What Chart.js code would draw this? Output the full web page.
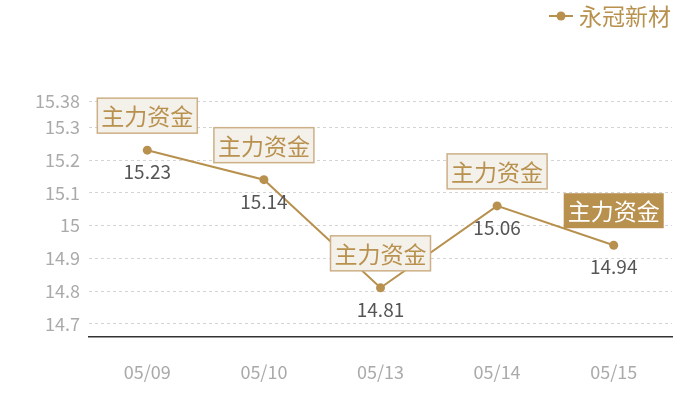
<!DOCTYPE html>
<html>
<head>
<meta charset="utf-8">
<script src="https://cdn.jsdelivr.net/npm/chart.js@4.4.1/dist/chart.umd.min.js"></script>
<style>
  html, body { margin: 0; padding: 0; background: #fff; }
  #box { width: 700px; height: 400px; }
</style>
</head>
<body>
<div id="box"><canvas id="grafico"></canvas></div>
<script>
// dati
const categorie = ["05/09", "05/10", "05/13", "05/14", "05/15"];
const prezzi = [15.23, 15.14, 14.81, 15.06, 14.94];
const etichette = ["主力资金", "主力资金", "主力资金", "主力资金", "主力资金"];
const tickY = [14.7, 14.8, 14.9, 15.0, 15.1, 15.2, 15.3, 15.38];
const nomeSerie = "永冠新材";

const oro = "#b8914f";
const fontCJK = "'Noto Sans CJK SC', 'Noto Sans', sans-serif";

// disegna legenda, valori e riquadri "主力资金"
const pluginEtichette = {
    id: "etichette",
    afterDatasetsDraw(chart) {
        const ctx = chart.ctx;
        const meta = chart.getDatasetMeta(0);
        ctx.save();

        meta.data.forEach((p, i) => {
            // valore sotto il punto
            ctx.font = "19px " + fontCJK;
            ctx.fillStyle = "#555";
            ctx.textAlign = "center";
            ctx.textBaseline = "middle";
            ctx.fillText(String(prezzi[i]), p.x, p.y + 22);

            // riquadro sopra il punto
            const w = 100, h = 35;
            const bx = p.x - w / 2, by = p.y - 17 - h;
            const ultimo = i === meta.data.length - 1;
            ctx.fillStyle = ultimo ? oro : "#f4f0ea";
            ctx.fillRect(bx, by, w, h);
            if (!ultimo) {
                ctx.strokeStyle = "#cdb087";
                ctx.lineWidth = 1.5;
                ctx.strokeRect(bx, by, w, h);
            }
            ctx.font = "23px " + fontCJK;
            ctx.fillStyle = ultimo ? "#fff" : oro;
            ctx.fillText(etichette[i], p.x, by + h / 2 + 1);
        });

        // legenda in alto a destra
        ctx.strokeStyle = oro;
        ctx.lineWidth = 2;
        ctx.beginPath();
        ctx.moveTo(549, 16);
        ctx.lineTo(573, 16);
        ctx.stroke();
        ctx.fillStyle = oro;
        ctx.beginPath();
        ctx.arc(561, 16, 4.5, 0, Math.PI * 2);
        ctx.fill();
        ctx.font = "23px " + fontCJK;
        ctx.textAlign = "left";
        ctx.textBaseline = "middle";
        ctx.fillText(nomeSerie, 579, 16);

        ctx.restore();
    }
};

const ctx = document.getElementById("grafico").getContext("2d");
new Chart(ctx, {
    type: "line",
    data: {
        labels: categorie,
        datasets: [{
            label: nomeSerie,
            data: prezzi,
            borderColor: oro,
            backgroundColor: oro,
            borderWidth: 2,
            pointRadius: 4.5,
            pointBackgroundColor: oro,
            pointBorderWidth: 0,
            tension: 0,
            fill: false
        }]
    },
    options: {
        responsive: true,
        maintainAspectRatio: false,
        animation: false,
        layout: { padding: { top: 101, right: 28, bottom: 0, left: 0 } },
        plugins: {
            legend: { display: false },
            tooltip: { enabled: false }
        },
        scales: {
            x: {
                offset: true,
                grid: { display: false, drawTicks: false },
                border: { display: true, color: "#333", width: 1.5 },
                ticks: {
                    padding: 24,
                    color: "#aaa",
                    font: { size: 18, family: fontCJK }
                },
                afterFit(scale) { scale.height = 63; }
            },
            y: {
                min: 14.66,
                max: 15.38,
                afterBuildTicks(scale) {
                    scale.ticks = tickY.map(v => ({ value: v }));
                },
                grid: { color: "#d4d4d4", drawTicks: false },
                border: { display: false, dash: [3, 3] },
                ticks: {
                    padding: 9,
                    color: "#aaa",
                    font: { size: 18, family: fontCJK },
                    callback: v => String(v)
                },
                afterFit(scale) { scale.width = 89; }
            }
        }
    },
    plugins: [pluginEtichette]
});
</script>
</body>
</html>
